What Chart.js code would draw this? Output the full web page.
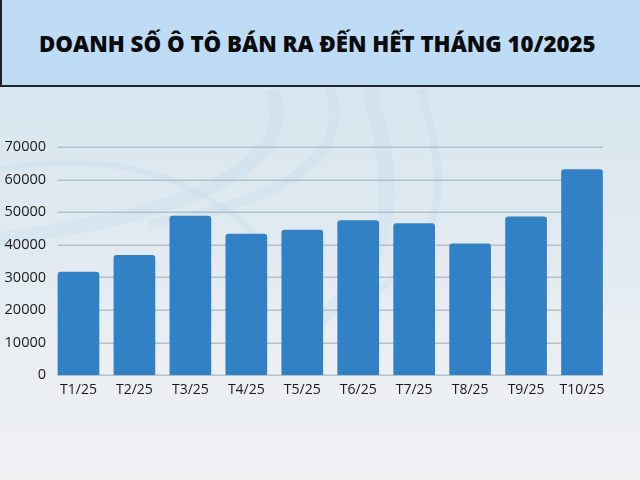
<!DOCTYPE html>
<html>
<head>
<meta charset="utf-8">
<script src="https://cdn.jsdelivr.net/npm/chart.js@4.4.1/dist/chart.umd.min.js"></script>
<style>
    html, body { margin: 0; padding: 0; }
    body {
        width: 640px; height: 480px; overflow: hidden; position: relative;
        background: linear-gradient(180deg, #d5e4ee 0%, #dfe9f0 45%, #ebeff2 75%, #eff1f3 100%);
        font-family: "Open Sans", sans-serif;
    }
    .header {
        position: absolute; left: 0; top: 0; width: 640px; height: 87px;
        background: #bedcf6;
        border-left: 2px solid #1c2226; border-bottom: 2px solid #1c2226;
        box-sizing: border-box;
    }
    .header h1 {
        position: absolute; left: 37px; top: 28px; margin: 0;
        font-size: 22px; font-weight: 800; color: #0b0b0b;
        white-space: nowrap; transform-origin: left center;
    }
    .waves {
        position: absolute; left: 0; top: 89px; width: 640px; height: 391px;
    }
    .chart-box {
        position: absolute; left: 0; top: 88px; width: 640px; height: 392px;
    }
</style>
</head>
<body>
<svg class="waves" viewBox="0 0 640 391">
    <g fill="none" stroke="#a6d0ea" stroke-opacity="0.14">
        <path d="M270 0 C 300 60, 230 120, 0 150" stroke-width="14" />
        <path d="M330 0 C 350 60, 300 110, 150 135" stroke-width="10" />
        <path d="M370 0 C 390 80, 410 160, 320 230" stroke-width="16" />
        <path d="M420 0 C 440 70, 460 140, 380 200" stroke-width="8" />
        <path d="M0 80 C 120 60, 200 90, 260 150" stroke-width="6" />
    </g>
</svg>
<div class="header"><h1 id="title">DOANH SỐ Ô TÔ BÁN RA ĐẾN HẾT THÁNG 10/2025</h1></div>
<div class="chart-box"><canvas id="salesChart" width="640" height="392"></canvas></div>
<script>
// Data
const months = ['T1/25', 'T2/25', 'T3/25', 'T4/25', 'T5/25', 'T6/25', 'T7/25', 'T8/25', 'T9/25', 'T10/25'];
const sales = [31700, 36900, 48900, 43400, 44600, 47500, 46600, 40400, 48700, 63200];
const yTicks = [0, 10000, 20000, 30000, 40000, 50000, 60000, 70000];

// Stretch title to the width of the original
const title = document.getElementById('title');
title.style.transform = 'scaleX(' + (557 / title.offsetWidth) + ')';

// Horizontal grid lines that stop at the outer bar edges
const barGrid = {
    id: 'barGrid',
    beforeDatasetsDraw(chart) {
        const bars = chart.getDatasetMeta(0).data;
        if (!bars.length) return;
        const first = bars[0], last = bars[bars.length - 1];
        const x1 = first.x - first.width / 2;
        const x2 = last.x + last.width / 2;
        const ctx = chart.ctx;
        ctx.save();
        ctx.strokeStyle = 'rgba(160, 176, 188, 0.7)';
        ctx.lineWidth = 1.5;
        yTicks.forEach(v => {
            const y = Math.round(chart.scales.y.getPixelForValue(v)) + 0.25;
            ctx.beginPath();
            ctx.moveTo(x1, y);
            ctx.lineTo(x2, y);
            ctx.stroke();
        });
        ctx.restore();
    }
};

new Chart(document.getElementById('salesChart'), {
    type: 'bar',
    data: {
        labels: months,
        datasets: [{
            data: sales,
            backgroundColor: '#3381c5',
            borderRadius: 3,
            borderSkipped: 'bottom',
            barPercentage: 0.745,
            categoryPercentage: 1
        }]
    },
    options: {
        responsive: false,
        animation: false,
        layout: { padding: { top: 59, right: 30, bottom: 76, left: 0 } },
        plugins: {
            legend: { display: false },
            tooltip: { enabled: false }
        },
        scales: {
            x: {
                grid: { display: false, drawTicks: false },
                border: { display: false },
                ticks: {
                    color: '#1a1a1a',
                    padding: 6,
                    font: { family: 'Open Sans', size: 14 }
                }
            },
            y: {
                min: 0,
                max: 70000,
                afterFit: scale => { scale.width = 50.5; },
                afterBuildTicks: scale => { scale.ticks = yTicks.map(v => ({ value: v })); },
                grid: { display: false, drawTicks: false },
                border: { display: false },
                ticks: {
                    color: '#1a1a1a',
                    padding: 4.5,
                    font: { family: 'Open Sans', size: 14.5 },
                    callback: v => String(v)
                }
            }
        }
    },
    plugins: [barGrid]
});
</script>
</body>
</html>
